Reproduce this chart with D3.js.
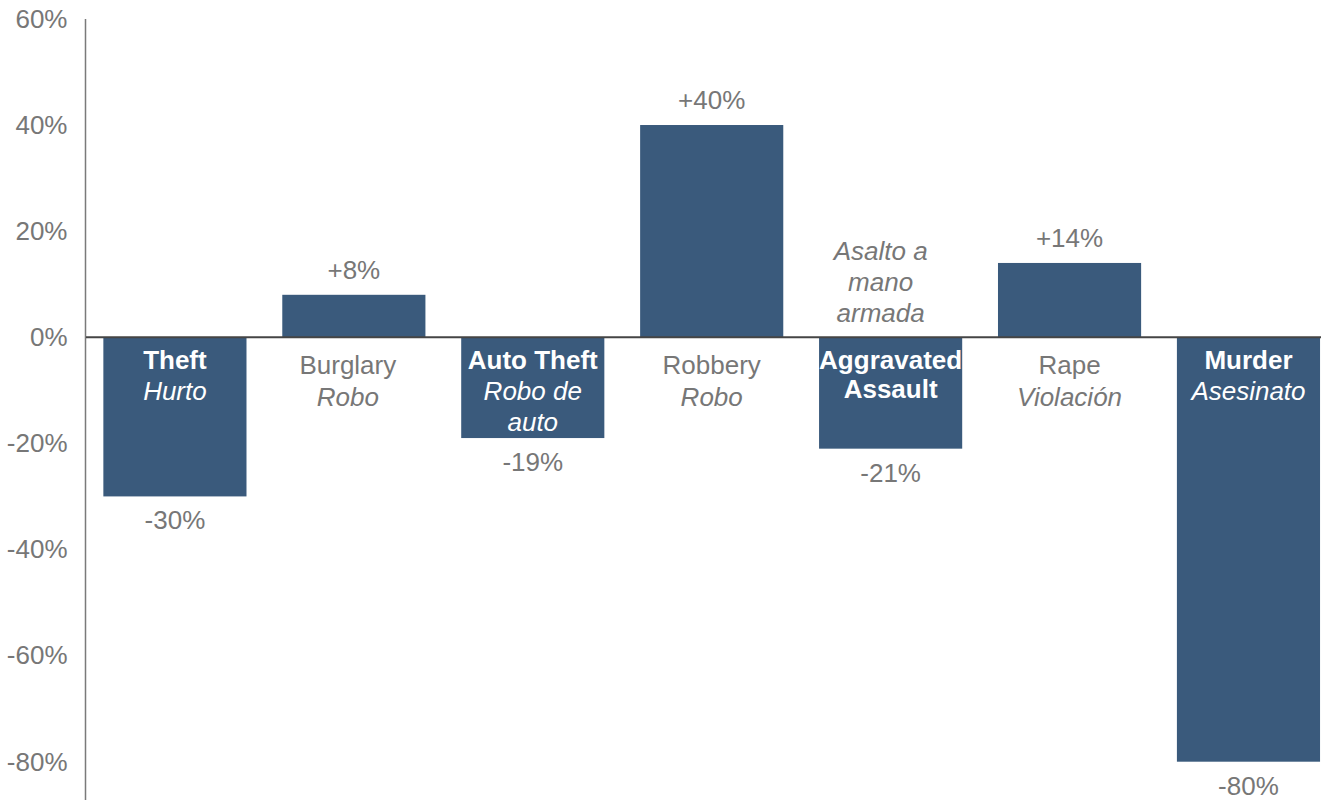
<!DOCTYPE html>
<html>
<head>
<meta charset="utf-8">
<script src="https://cdn.jsdelivr.net/npm/d3@7"></script>
<style>
  html, body { margin: 0; padding: 0; background: #ffffff; }
  svg { display: block; font-family: "Liberation Sans", Arial, sans-serif; }
</style>
</head>
<body>
<svg id="chart" width="1321" height="800"></svg>
<script>
// Percent change by offence type
const categories = ["Theft", "Burglary", "Auto Theft", "Robbery", "Aggravated Assault", "Rape", "Murder"];
const changes = [-30, 8, -19, 40, -21, 14, -80];
const valueLabels = ["-30%", "+8%", "-19%", "+40%", "-21%", "+14%", "-80%"];
const englishLines = [["Theft"], ["Burglary"], ["Auto Theft"], ["Robbery"], ["Aggravated", "Assault"], ["Rape"], ["Murder"]];
const spanishLines = [["Hurto"], ["Robo"], ["Robo de", "auto"], ["Robo"], ["Asalto a", "mano", "armada"], ["Violación"], ["Asesinato"]];
const tickValues = [-80, -60, -40, -20, 0, 20, 40, 60];
const tickLabels = ["-80%", "-60%", "-40%", "-20%", "0%", "20%", "40%", "60%"];

const W = 1321, H = 800;
const barColor = "#3a5a7c";
const textGray = "#777777";
const fontSize = 26;

// small horizontal nudges for a couple of gray label blocks
const labelShift = { "Burglary": -6, "Aggravated Assault": -10 };

const svg = d3.select("#chart");

const x = d3.scaleBand()
  .domain(categories)
  .range([86, 1337.4])
  .paddingInner(0.2)
  .paddingOuter(0.097);

const y = d3.scaleLinear()
  .domain([-80, 60])
  .range([761.7, 18.9]);

const y0 = y(0);

// Y axis: labels only, then a plain vertical rule running to the bottom edge
const yAxis = d3.axisLeft(y)
  .tickValues(tickValues)
  .tickFormat((d, i) => tickLabels[i])
  .tickSize(0)
  .tickPadding(18);

const axisG = svg.append("g")
  .attr("transform", "translate(85.5,0)")
  .call(yAxis);
axisG.select(".domain").remove();
axisG.selectAll("text")
  .attr("fill", textGray)
  .style("font-size", fontSize + "px")
  .style("font-family", "'Liberation Sans', Arial, sans-serif");

svg.append("line")
  .attr("x1", 85.5).attr("x2", 85.5)
  .attr("y1", y(60)).attr("y2", H)
  .attr("stroke", "#7a7a7a")
  .attr("stroke-width", 1.5);

// Bars
const rows = categories.map((c, i) => ({
  cat: c, v: changes[i], label: valueLabels[i], en: englishLines[i], es: spanishLines[i]
}));

svg.append("g").selectAll("rect")
  .data(rows)
  .join("rect")
  .attr("x", d => x(d.cat))
  .attr("width", x.bandwidth())
  .attr("y", d => Math.min(y(d.v), y0))
  .attr("height", d => Math.abs(y(d.v) - y0))
  .attr("fill", barColor);

// Zero baseline
svg.append("line")
  .attr("x1", 86).attr("x2", W)
  .attr("y1", y0).attr("y2", y0)
  .attr("stroke", "#454545")
  .attr("stroke-width", 2);

// Value labels
svg.append("g").selectAll("text")
  .data(rows)
  .join("text")
  .attr("x", d => x(d.cat) + x.bandwidth() / 2)
  .attr("y", d => d.v >= 0 ? y(d.v) - 16 : y(d.v) + 33)
  .attr("text-anchor", "middle")
  .attr("fill", textGray)
  .style("font-size", fontSize + "px")
  .text(d => d.label);

// Category labels (English / Spanish)
const lineH = 31;
const labelG = svg.append("g");
rows.forEach(d => {
  const cx = x(d.cat) + x.bandwidth() / 2;
  const shift = labelShift[d.cat] || 0;
  const g = labelG.append("g");
  if (d.v < 0) {
    // English inside the bar in bold white
    let yy = y0 + 32;
    d.en.forEach(t => {
      g.append("text")
        .attr("x", cx).attr("y", yy)
        .attr("text-anchor", "middle")
        .attr("fill", "#ffffff")
        .attr("font-weight", "bold")
        .style("font-size", fontSize + "px")
        .text(t);
      yy += (d.en.length > 1 ? 29 : lineH);
    });
    if (d.es.length <= 2) {
      d.es.forEach(t => {
        g.append("text")
          .attr("x", cx).attr("y", yy)
          .attr("text-anchor", "middle")
          .attr("fill", "#ffffff")
          .attr("font-style", "italic")
          .style("font-size", fontSize + "px")
          .text(t);
        yy += lineH;
      });
    } else {
      // long Spanish name stacked above the baseline
      let ya = y0 - 15 - (d.es.length - 1) * lineH;
      d.es.forEach(t => {
        g.append("text")
          .attr("x", cx + shift).attr("y", ya)
          .attr("text-anchor", "middle")
          .attr("fill", textGray)
          .attr("font-style", "italic")
          .style("font-size", fontSize + "px")
          .text(t);
        ya += lineH;
      });
    }
  } else {
    // Below the baseline in gray
    let yy = y0 + 37;
    d.en.forEach(t => {
      g.append("text")
        .attr("x", cx + shift).attr("y", yy)
        .attr("text-anchor", "middle")
        .attr("fill", textGray)
        .style("font-size", fontSize + "px")
        .text(t);
      yy += 31.5;
    });
    d.es.forEach(t => {
      g.append("text")
        .attr("x", cx + shift).attr("y", yy)
        .attr("text-anchor", "middle")
        .attr("fill", textGray)
        .attr("font-style", "italic")
        .style("font-size", fontSize + "px")
        .text(t);
      yy += 31.5;
    });
  }
});
</script>
</body>
</html>
